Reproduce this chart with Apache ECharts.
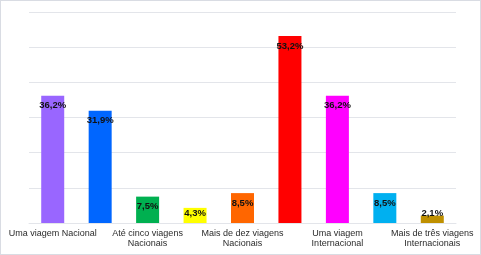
<!DOCTYPE html>
<html>
<head>
<meta charset="utf-8">
<script src="https://cdn.jsdelivr.net/npm/echarts@6/dist/echarts.min.js"></script>
<style>
  html, body { margin: 0; padding: 0; background: #fff; }
  #chart {
    width: 479px;
    height: 253px;
    border: 1px solid #d9dce3;
  }
</style>
</head>
<body>
<div id="chart"></div>
<script>
  // categorias (só as pares aparecem no eixo)
  const categories = [
    'Uma viagem Nacional',
    'Duas viagens Nacionais',
    'Até cinco viagens\nNacionais',
    'Até dez viagens Nacionais',
    'Mais de dez viagens\nNacionais',
    'Nenhuma viagem Internacional',
    'Uma viagem\nInternacional',
    'Até três viagens Internacionais',
    'Mais de três viagens\nInternacionais'
  ]
  const values = [36.2, 31.9, 7.5, 4.3, 8.5, 53.2, 36.2, 8.5, 2.1]
  const barColors = ['#9966ff', '#0066ff', '#00b050', '#ffff00', '#ff6600', '#ff0000', '#ff00ff', '#00b0f0', '#bf9000']

  const chart = echarts.init(document.getElementById('chart'))

  const seriesData = values.map((v, i) => {
    const item = { value: v, itemStyle: { color: barColors[i] } }
    if (v < 3) {
      item.label = { position: 'top', distance: -3 }
    } else if (v < 5) {
      item.label = { position: 'insideTop', distance: 0 }
    }
    return item
  })

  const option = {
    animation: false,
    grid: {
      left: 28,
      right: 24,
      top: 11,
      bottom: 31
    },
    xAxis: {
      type: 'category',
      data: categories,
      axisTick: { show: false },
      axisLine: { lineStyle: { color: '#e3e5ea', width: 1 } },
      axisLabel: {
        interval: 1,
        color: '#2b2b2b',
        fontFamily: 'Liberation Sans, Arial',
        fontSize: 9,
        lineHeight: 10,
        margin: 6
      }
    },
    yAxis: {
      type: 'value',
      min: 0,
      max: 60,
      interval: 10,
      axisLabel: { show: false },
      axisLine: { show: false },
      axisTick: { show: false },
      splitLine: { lineStyle: { color: '#e3e5ea', width: 1 } }
    },
    series: [{
      type: 'bar',
      barWidth: 23,
      data: seriesData,
      label: {
        show: true,
        position: 'insideTop',
        distance: 5,
        formatter: p => p.value.toFixed(1).replace('.', ',') + '%',
        color: '#111111',
        fontFamily: 'Liberation Sans, Arial',
        fontWeight: 'bold',
        fontSize: 9.5
      }
    }]
  }

  chart.setOption(option)
</script>
</body>
</html>
